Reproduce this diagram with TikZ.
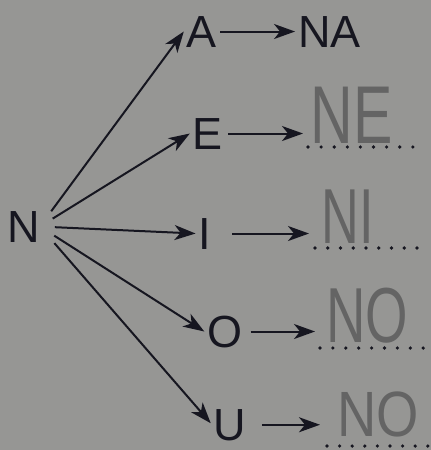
\documentclass[tikz,border=0pt]{standalone}
\usepackage{fontspec}
\setmainfont{Liberation Sans}
\usetikzlibrary{arrows.meta}
\definecolor{bg}{RGB}{150,150,148}
\definecolor{ink}{RGB}{22,22,32}
\definecolor{pencil}{RGB}{100,100,100}
\begin{document}
\begin{tikzpicture}[x=1pt,y=-1pt,
  letter/.style={font=\fontsize{45}{45}\selectfont, text=ink, inner sep=3pt, anchor=base},
  hand/.style={font=\fontsize{78}{78}\selectfont, text=pencil, inner sep=0pt, anchor=base},
  arr/.style={draw=ink, line width=2pt, -{Stealth[length=21pt,width=15pt,inset=6pt]}},
  dotmark/.style={fill=ink}]
\fill[bg] (0,0) rectangle (431,450);
\useasboundingbox (0,0) rectangle (431,450);

% letters
\node[letter, inner sep=0pt] (N) at (23.5,242) {N};
\node[letter] (A) at (202,47) {A};
\node[letter] (NA) at (329.5,47) {NA};
\node[letter] (E) at (208,149) {E};
\node[letter] (I) at (205,249) {I};
\node[letter] (O) at (225,347) {O};
\node[letter, inner sep=1pt] (U) at (229.5,440) {U};

% handwritten answers
\node[hand, font=\fontsize{82}{82}\selectfont] (hE) at (352,143) {\scalebox{0.72}[1]{NE}};
\node[hand] (hI) at (348,243) {\scalebox{0.67}[1]{NI}};
\node[hand] (hO) at (367,342) {\scalebox{0.7}[1]{NO}};
\node[hand, font=\fontsize{64}{64}\selectfont] (hU) at (378,436) {\scalebox{0.85}[1]{NO}};

% end points of the answer arrows
\coordinate (tE) at (303,133);
\coordinate (tI) at (309,234);
\coordinate (tO) at (315,334);
\coordinate (tU) at (320,431);

% fan
\draw[arr, shorten <=19pt] (N.east) -- (A.west);
\draw[arr, shorten <=15pt] (N.east) -- (E.west);
\draw[arr, shorten <=15pt] (N.east) -- (I.west);
\draw[arr, shorten <=17pt] (N.east) -- (O.west);
\draw[arr, shorten <=22pt, shorten >=2pt] (N.east) -- (U.west);

% horizontal arrows
\draw[arr] (A.east) -- (NA.west);
\draw[arr, shorten <=2pt] (E.east) -- (E.east -| tE);
\draw[arr, shorten <=18pt] (I.east) -- (I.east -| tI);
\draw[arr, shorten <=5pt] (O.east) -- (O.east -| tO);
\draw[arr, shorten <=15pt] (U.east) -- (U.east -| tU);

% dotted answer lines
\foreach \i in {0,...,8} {
  \fill[dotmark] ({308+\i*13.1},147) circle (1.8pt);
  \fill[dotmark] ({315+\i*12.75},248) circle (1.8pt);
  \fill[dotmark] ({320+\i*12.9},348) circle (1.8pt);
  \fill[dotmark] ({327+\i*12.6},446) circle (1.8pt);
}
\end{tikzpicture}
\end{document}
